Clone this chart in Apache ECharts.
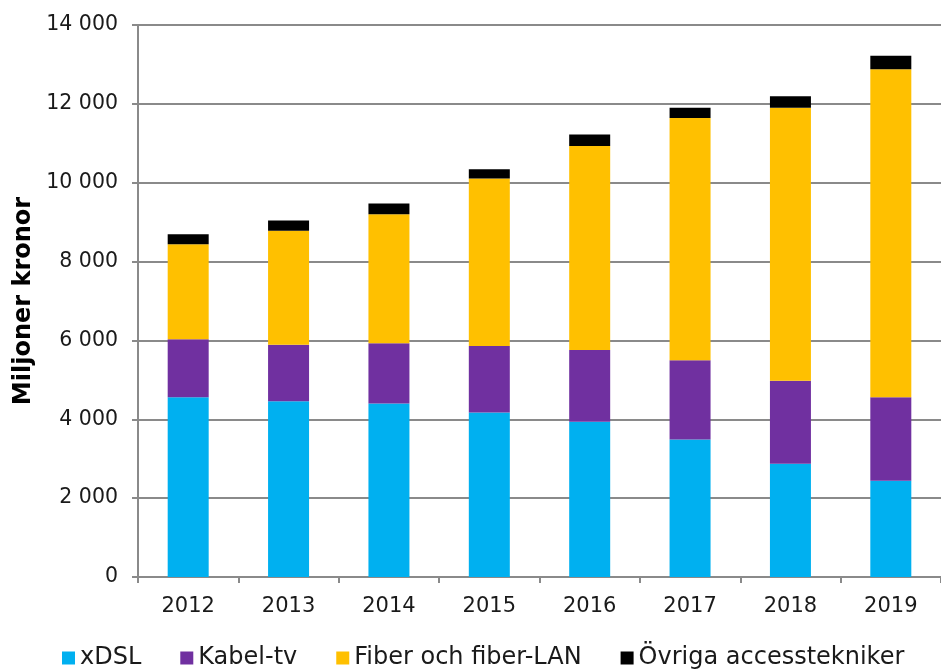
<!DOCTYPE html>
<html>
<head>
<meta charset="utf-8">
<script src="https://cdn.jsdelivr.net/npm/echarts@6/dist/echarts.min.js"></script>
<style>
html,body{margin:0;padding:0;background:#fff;}
#chart{width:941px;height:671px;}
</style>
</head>
<body>
<div id="chart"></div>
<script>
const categories = ['2012','2013','2014','2015','2016','2017','2018','2019'];
const xdsl    = [4560, 4460, 4400, 4170, 3940, 3490, 2870, 2440];
const kabeltv = [1470, 1430, 1530, 1690, 1820, 2010, 2110, 2120];
const fiber   = [2410, 2890, 3270, 4250, 5170, 6140, 6920, 8320];
const ovriga  = [250, 260, 270, 230, 290, 260, 290, 340];
const seriesNames = ['xDSL', 'Kabel-tv', 'Fiber och fiber-LAN', 'Övriga accesstekniker'];
const yAxisTitle = 'Miljoner kronor';

const colors = ['#00B0F0', '#7030A0', '#FFC000', '#000000'];
const font = 'DejaVu Sans, Verdana, sans-serif';
const gray = '#8a8a8a';

const chart = echarts.init(document.getElementById('chart'), null, {renderer: 'canvas'});
const dataSets = [xdsl, kabeltv, fiber, ovriga];

chart.setOption({
  animation: false,
  color: colors,
  textStyle: {fontFamily: font},
  grid: {left: 138, top: 25, bottom: 94, width: 812, containLabel: false},
  legend: {
    data: seriesNames,
    left: 57,
    top: 641,
    icon: 'rect',
    itemWidth: 13,
    itemHeight: 13,
    itemGap: 39,
    textStyle: {fontFamily: font, fontSize: 24, color: '#1a1a1a'}
  },
  xAxis: {
    type: 'category',
    data: categories,
    axisLine: {lineStyle: {color: gray, width: 2}},
    axisTick: {show: true, length: 6, lineStyle: {color: gray, width: 2}},
    axisLabel: {fontFamily: font, fontSize: 21, color: '#1a1a1a', margin: 19}
  },
  yAxis: {
    type: 'value',
    min: 0,
    max: 14000,
    interval: 2000,
    name: yAxisTitle,
    nameLocation: 'middle',
    nameGap: 102,
    nameTextStyle: {fontFamily: font, fontSize: 24, fontWeight: 'bold', color: '#000'},
    axisLine: {show: true, lineStyle: {color: gray, width: 2}},
    axisTick: {show: true, length: 6, lineStyle: {color: gray, width: 2}},
    splitLine: {show: true, lineStyle: {color: gray, width: 2}},
    axisLabel: {
      fontFamily: font, fontSize: 20.5, color: '#1a1a1a', margin: 20,
      formatter: v => String(v).replace(/\B(?=(\d{3})+(?!\d))/g, ' ')
    }
  },
  series: seriesNames.map((n, i) => ({
    name: n,
    type: 'bar',
    stack: 'total',
    barWidth: 41,
    data: dataSets[i],
    itemStyle: {color: colors[i]}
  }))
});
</script>
</body>
</html>
